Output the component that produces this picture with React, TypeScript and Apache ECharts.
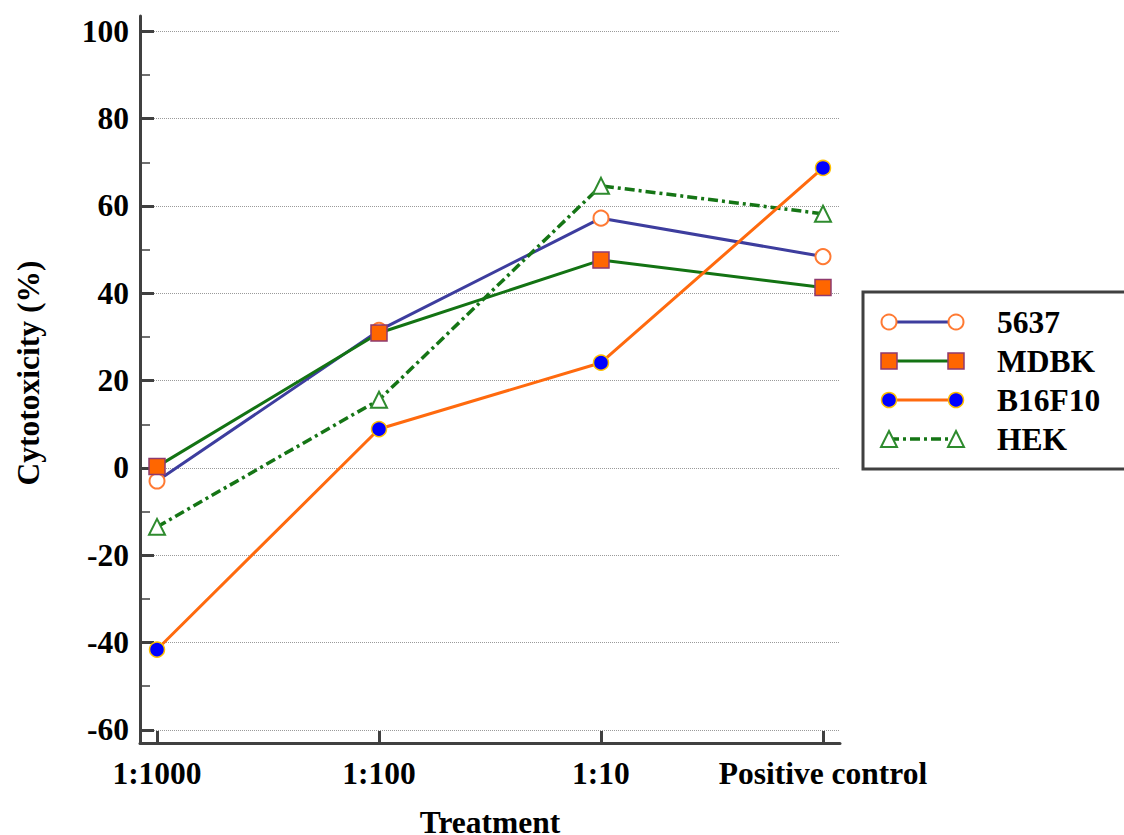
import React, { useEffect, useRef } from "react";
import * as echarts from "echarts";

const categories = ["1:1000", "1:100", "1:10", "Positive control"];
const seriesNames = ["5637", "MDBK", "B16F10", "HEK"];
const values5637 = [-3.0, 31.5, 57.2, 48.4];
const valuesMDBK = [0.3, 30.9, 47.6, 41.3];
const valuesB16F10 = [-41.6, 8.9, 24.1, 68.7];
const valuesHEK = [-13.5, 15.6, 64.6, 58.2];
const yMajorTicks = [-60, -40, -20, 0, 20, 40, 60, 80, 100];
const yMinorTicks = [-50, -30, -10, 10, 30, 50, 70, 90];
const xTickPositions = [0, 1, 2, 3];
const xTitle = "Treatment";
const yTitle = "Cytotoxicity (%)";

const FONT = "'Liberation Serif', 'Times New Roman', serif";
const FONT_SIZE = 31.5;
const AXIS_COLOR = "#404040";

const styles = {
  "5637": {
    line: "#3d3d9e",
    lineWidth: 3,
    symbol: "circle",
    size: 15,
    fill: "#ffffff",
    border: "#ff7a33",
    borderWidth: 2,
    dash: "solid" as any,
  },
  MDBK: {
    line: "#137313",
    lineWidth: 3,
    symbol: "rect",
    size: 16,
    fill: "#ff6600",
    border: "#8e3a6e",
    borderWidth: 1.5,
    dash: "solid" as any,
  },
  B16F10: {
    line: "#ff6a0e",
    lineWidth: 3,
    symbol: "circle",
    size: 15,
    fill: "#0000ff",
    border: "#ffc000",
    borderWidth: 1.5,
    dash: "solid" as any,
  },
  HEK: {
    line: "#157515",
    lineWidth: 3.5,
    symbol: "triangle",
    size: 16,
    fill: "#ffffff",
    border: "#2e8b2e",
    borderWidth: 2,
    dash: [10, 4, 3, 4] as any,
  },
};

function toPoints(vals: number[]) {
  return vals.map((v, i) => [i, v]);
}

function legendSymbol(name: string, cx: number, cy: number): any {
  const s = (styles as any)[name];
  const style = { fill: s.fill, stroke: s.border, lineWidth: s.borderWidth };
  const r = s.size / 2;
  if (s.symbol === "circle") {
    return { type: "circle", shape: { cx, cy, r }, style };
  }
  if (s.symbol === "rect") {
    return { type: "rect", shape: { x: cx - r, y: cy - r, width: s.size, height: s.size }, style };
  }
  return {
    type: "polygon",
    shape: {
      points: [
        [cx, cy - r],
        [cx + r, cy + r],
        [cx - r, cy + r],
      ],
    },
    style,
  };
}

export default function App() {
  const ref = useRef<HTMLDivElement>(null);

  useEffect(() => {
    if (!ref.current) return;
    const chart = echarts.init(ref.current, undefined, { renderer: "svg" });

    const dataMap: Record<string, number[]> = {
      "5637": values5637,
      MDBK: valuesMDBK,
      B16F10: valuesB16F10,
      HEK: valuesHEK,
    };
    const drawOrder = ["5637", "MDBK", "HEK", "B16F10"];

    const series = drawOrder.map((name, k) => {
      const s = (styles as any)[name];
      return {
        name,
        type: "line",
        xAxisIndex: 0,
        yAxisIndex: 0,
        data: toPoints(dataMap[name]),
        symbol: s.symbol,
        symbolSize: s.size,
        showAllSymbol: true,
        z: 3 + k,
        lineStyle: { color: s.line, width: s.lineWidth, type: s.dash },
        itemStyle: { color: s.fill, borderColor: s.border, borderWidth: s.borderWidth },
      };
    });

    const legendX1 = 889;
    const legendX2 = 956;
    const legendTextX = 997;
    const rowY = [322, 361, 400, 439];
    const graphics: any[] = [
      {
        type: "rect",
        shape: { x: 863, y: 292, width: 300, height: 177 },
        style: { fill: "#ffffff", stroke: AXIS_COLOR, lineWidth: 3 },
      },
    ];
    seriesNames.forEach((name, i) => {
      const s = (styles as any)[name];
      const y = rowY[i];
      graphics.push({
        type: "line",
        shape: { x1: legendX1, y1: y, x2: legendX2, y2: y },
        style: {
          stroke: s.line,
          lineWidth: s.lineWidth,
          lineDash: Array.isArray(s.dash) ? s.dash : null,
        },
      });
      graphics.push(legendSymbol(name, legendX1, y));
      graphics.push(legendSymbol(name, legendX2, y));
      graphics.push({
        type: "text",
        x: legendTextX,
        y,
        style: {
          text: name,
          fill: "#000",
          font: `bold ${FONT_SIZE}px ${FONT}`,
          verticalAlign: "middle",
        },
      });
    });
    graphics.push({
      type: "text",
      x: 28,
      y: 373,
      rotation: Math.PI / 2,
      style: {
        text: yTitle,
        fill: "#000",
        font: `bold ${FONT_SIZE}px ${FONT}`,
        align: "center",
        verticalAlign: "middle",
      },
    });

    const labelStyle = {
      fontSize: FONT_SIZE,
      fontWeight: "bold" as any,
      fontFamily: FONT,
      color: "#000",
    };

    chart.setOption({
      animation: false,
      backgroundColor: "#ffffff",
      grid: {
        left: 140,
        right: 284,
        top: 16,
        bottom: 92,
        containLabel: false,
        outerBoundsMode: "none",
      },
      xAxis: {
        type: "value",
        min: -0.0766,
        max: 3.0766,
        name: xTitle,
        nameLocation: "middle",
        nameGap: 67,
        nameTextStyle: { ...labelStyle, lineHeight: 24 },
        axisLine: { show: true, onZero: false, lineStyle: { color: AXIS_COLOR, width: 3 } },
        axisTick: {
          show: true,
          inside: true,
          length: 12,
          customValues: xTickPositions,
          lineStyle: { color: AXIS_COLOR, width: 3 },
        },
        axisLabel: {
          ...labelStyle,
          margin: 14,
          customValues: xTickPositions,
          formatter: (v: number) => categories[Math.round(v)] ?? "",
        },
        splitLine: { show: false },
      },
      yAxis: [
        {
          type: "value",
          min: -63,
          max: 103.5,
          axisLine: { show: true, onZero: false, lineStyle: { color: AXIS_COLOR, width: 3 } },
          axisTick: {
            show: true,
            inside: true,
            length: 14,
            customValues: yMajorTicks,
            lineStyle: { color: AXIS_COLOR, width: 3 },
          },
          axisLabel: {
            ...labelStyle,
            margin: 11,
            customValues: yMajorTicks,
          },
          splitLine: { show: true, lineStyle: { color: "#9a9a9a", width: 1, type: "dotted" } },
        },
        {
          type: "value",
          min: -63,
          max: 103.5,
          position: "left",
          axisLine: { show: false, onZero: false },
          axisTick: {
            show: true,
            inside: true,
            length: 10,
            customValues: yMinorTicks,
            lineStyle: { color: AXIS_COLOR, width: 1.5 },
          },
          axisLabel: { show: false },
          splitLine: { show: false },
        },
      ],
      graphic: graphics,
      series,
    });

    return () => chart.dispose();
  }, []);

  return (
    <div
      ref={ref}
      style={{ position: "absolute", left: 0, top: 0, width: 1124, height: 835, background: "#fff" }}
    />
  );
}
